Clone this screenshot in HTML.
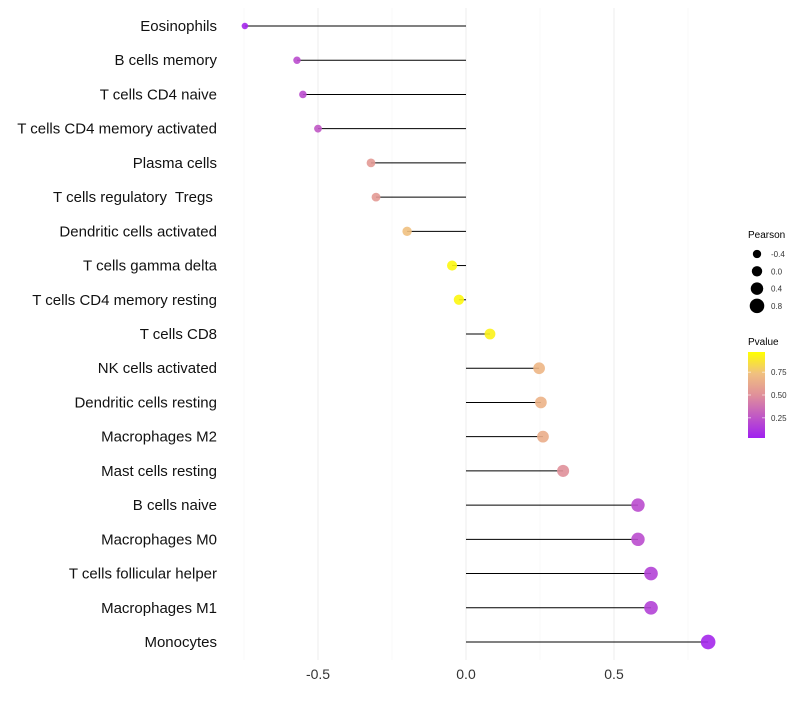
<!DOCTYPE html>
<html><head><meta charset="utf-8"><style>
body{margin:0;background:#fff;}
svg{font-family:"Liberation Sans",sans-serif;}
</style></head><body>
<svg id="chart" width="800" height="700">
<defs><linearGradient id="pg" x1="0" y1="1" x2="0" y2="0">
<stop offset="0" stop-color="#A020F0"/><stop offset="0.5" stop-color="#E0909A"/><stop offset="0.75" stop-color="#F0C080"/><stop offset="1" stop-color="#FFFF00"/></linearGradient></defs>
<g id="grid"></g>
<g id="marks"></g>
<g id="legend">
<text x="748" y="238" font-size="10">Pearson</text>
<text x="748" y="345" font-size="10">Pvalue</text>
<rect x="748" y="352" width="17" height="86" fill="url(#pg)"/>
</g>
</svg>
<script>
const categories=["Eosinophils","B cells memory","T cells CD4 naive","T cells CD4 memory activated","Plasma cells","T cells regulatory  Tregs\u00a0","Dendritic cells activated","T cells gamma delta","T cells CD4 memory resting","T cells CD8","NK cells activated","Dendritic cells resting","Macrophages M2","Mast cells resting","B cells naive","Macrophages M0","T cells follicular helper","Macrophages M1","Monocytes"];
const pearson=[-0.747,-0.571,-0.551,-0.5,-0.321,-0.304,-0.199,-0.047,-0.024,0.081,0.247,0.253,0.260,0.328,0.581,0.581,0.625,0.625,0.818];
const pvalue=[0.03,0.2,0.2,0.25,0.55,0.55,0.75,0.97,0.97,0.95,0.7,0.68,0.65,0.5,0.2,0.2,0.15,0.15,0.03];
const xTicks=[-0.5,0,0.5];
const xTickLabels=["-0.5","0.0","0.5"];
const minorTicks=[-0.75,-0.25,0.25,0.75];
const sizeLegend=[-0.4,0,0.4,0.8];
const colorTicks=[0.25,0.5,0.75];

const NS="http://www.w3.org/2000/svg";
const X=v=>466+v*296;
const Y=i=>26+i*(616/18);
const R=v=>Math.max(2,5.2+2.6*v);
const CY=p=>438-(p-0.03)/0.94*86;
function lerp(a,b,t){return a.map((x,i)=>Math.round(x+(b[i]-x)*t));}
function col(p){const s=[[0,[160,32,240]],[0.5,[224,144,154]],[0.75,[240,192,128]],[1,[255,255,0]]];
 for(let i=1;i<s.length;i++){if(p<=s[i][0]){const t=(p-s[i-1][0])/(s[i][0]-s[i-1][0]);const c=lerp(s[i-1][1],s[i][1],t);return`rgb(${c})`;}}return"rgb(255,255,0)";}
function mk(tag,at,parent){const e=document.createElementNS(NS,tag);for(const k in at)e.setAttribute(k,at[k]);parent.appendChild(e);return e;}
const grid=document.getElementById('grid'),marks=document.getElementById('marks'),leg=document.getElementById('legend');
minorTicks.forEach(v=>{const l=mk('line',{x1:X(v),x2:X(v),y1:8,y2:660,stroke:'#f4f4f4','stroke-width':0.6},grid);

});
xTicks.forEach((v,i)=>{const l=mk('line',{x1:X(v),x2:X(v),y1:8,y2:660,stroke:'#eeeeee','stroke-width':1},grid);


const t=mk('text',{x:X(v),y:679,'font-size':14,'text-anchor':'middle',fill:'#333'},grid);t.textContent=xTickLabels[i];

});
categories.forEach((c,i)=>{const y=Y(i);
const t=mk('text',{x:217,y:y+5,'font-size':15,'text-anchor':'end',fill:'#111','xml:space':'preserve'},marks);t.setAttributeNS('http://www.w3.org/XML/1998/namespace','xml:space','preserve');t.textContent=c;


const l=mk('line',{x1:X(0),x2:X(pearson[i]),y1:y,y2:y,stroke:'#000','stroke-width':1},marks);


const d=mk('circle',{cx:X(pearson[i]),cy:y,r:R(pearson[i]),fill:col(pvalue[i]),'fill-opacity':0.9},marks);

});
sizeLegend.forEach((v,i)=>{const y=254+i*17.3;
const d=mk('circle',{cx:757,cy:y,r:R(v),fill:'#000'},leg);


const t=mk('text',{x:771,y:y+3,'font-size':8,fill:'#333'},leg);t.textContent=v.toFixed(1);

});
colorTicks.forEach(p=>{const y=CY(p);
mk('line',{x1:748,x2:751,y1:y,y2:y,stroke:'#fff','stroke-width':0.6},leg);
mk('line',{x1:762,x2:765,y1:y,y2:y,stroke:'#fff','stroke-width':0.6},leg);
const t=mk('text',{x:771,y:y+3,'font-size':8,fill:'#333'},leg);t.textContent=p.toFixed(2);

});
</script>
</body></html>
